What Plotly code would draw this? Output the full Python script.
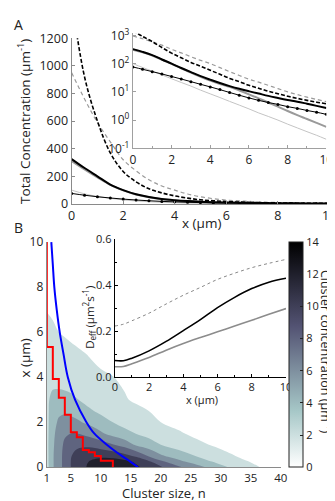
import plotly.graph_objects as go

# ---------------- panel A: total concentration along x
xa = [0, 0.5, 1, 1.5, 2, 2.5, 3, 3.5, 4, 4.5, 5, 5.5, 6, 6.5, 7, 7.5, 8, 8.5, 9, 9.5, 10]
conc_black_dash = [1480, 920, 600, 370, 235, 160, 110, 80, 58, 42, 30, 23, 17, 13.5, 10.5, 8.6, 7.0, 5.9, 5.0, 4.3, 3.8]
conc_grey_dash = [950, 760, 590, 450, 320, 240, 175, 130, 100, 72, 52, 38, 28, 22, 17, 13, 10, 8.0, 6.5, 5.4, 4.5]
conc_black = [325, 260, 200, 140, 100, 70, 50, 36, 27, 20.5, 16, 12.8, 10.5, 8.7, 7.2, 6.1, 5.2, 4.5, 3.8, 3.2, 2.7]
conc_grey = [310, 250, 192, 138, 98, 68, 48, 34, 25, 19, 15, 11.2, 8.2, 5.9, 4.2, 3.0, 2.1, 1.5, 1.1, 0.8, 0.58]
conc_light = [100, 73, 54, 40, 29, 21.5, 16, 11.5, 8.5, 6.3, 4.6, 3.4, 2.5, 1.8, 1.35, 1.0, 0.72, 0.53, 0.39, 0.29, 0.21]
conc_marked = [76, 63, 52, 43, 35, 28.5, 23, 18.5, 15, 12, 9.5, 7.6, 6.1, 5.0, 4.2, 3.6, 3.0, 2.6, 2.2, 1.9, 1.6]

log_ticks = [0.1, 1, 10, 100, 1000]
log_ticktext = ['10<sup>-1</sup>', '10<sup>0</sup>', '10<sup>1</sup>', '10<sup>2</sup>', '10<sup>3</sup>']

# ---------------- panel B: cluster size distribution
n_vals = [1, 2, 3, 4, 5, 6, 8, 10, 12, 14, 16, 18, 20, 23, 26, 29, 32, 35, 38, 40]
x_vals = [0, 0.25, 0.5, 1, 1.5, 2, 2.5, 3, 3.5, 4, 5, 6, 7, 8, 10]
cluster_conc = [
    [3.2, 5.8, 7.3, 8.6, 10.0, 10.9, 12.3, 13.4, 13.8, 13.3, 12.3, 11.2, 10.2, 8.3, 6.8, 5.1, 3.6, 2.5, 1.5, 1.1],
    [3.3, 5.8, 7.3, 8.6, 10.0, 10.8, 12.0, 12.8, 13.0, 12.5, 11.6, 10.3, 8.4, 6.5, 5.0, 3.8, 2.8, 1.9, 1.3, 1.0],
    [3.3, 5.8, 7.3, 8.6, 9.9, 10.6, 11.3, 11.5, 11.3, 10.6, 9.6, 7.8, 6.3, 5.0, 3.9, 2.9, 2.1, 1.4, 1.0, 0.8],
    [3.4, 5.7, 7.1, 8.4, 9.2, 9.6, 9.6, 9.0, 8.1, 7.2, 5.6, 4.9, 4.0, 3.1, 2.4, 1.8, 1.3, 0.9, 0.7, 0.5],
    [3.4, 5.5, 6.9, 7.7, 8.0, 8.0, 7.3, 6.3, 5.3, 4.5, 3.9, 3.3, 2.8, 2.2, 1.6, 1.2, 0.9, 0.6, 0.4, 0.3],
    [3.4, 5.3, 6.3, 6.7, 6.6, 6.3, 5.6, 4.8, 4.0, 3.4, 2.9, 2.4, 2.0, 1.5, 1.1, 0.8, 0.6, 0.4, 0.3, 0.2],
    [3.5, 5.0, 5.6, 5.7, 5.5, 5.2, 4.3, 3.6, 3.1, 2.7, 2.3, 2.0, 1.6, 1.2, 0.9, 0.6, 0.4, 0.3, 0.2, 0.15],
    [3.5, 4.7, 4.9, 4.9, 4.6, 4.1, 3.4, 2.8, 2.4, 2.1, 1.8, 1.5, 1.2, 0.9, 0.7, 0.5, 0.35, 0.25, 0.18, 0.12],
    [3.5, 3.9, 3.95, 3.8, 3.6, 3.3, 2.9, 2.5, 2.2, 1.95, 1.6, 1.3, 1.0, 0.75, 0.55, 0.4, 0.3, 0.2, 0.15, 0.1],
    [3.4, 3.6, 3.5, 3.3, 3.1, 2.9, 2.5, 2.2, 2.03, 1.7, 1.4, 1.1, 0.85, 0.6, 0.45, 0.3, 0.2, 0.15, 0.1, 0.08],
    [3.1, 3.15, 2.95, 2.7, 2.5, 2.3, 1.95, 1.65, 1.4, 1.15, 0.95, 0.75, 0.6, 0.42, 0.3, 0.2, 0.14, 0.1, 0.07, 0.05],
    [2.75, 2.45, 2.0, 1.8, 1.6, 1.45, 1.2, 1.0, 0.85, 0.7, 0.58, 0.47, 0.38, 0.27, 0.19, 0.13, 0.09, 0.06, 0.04, 0.03],
    [1.9, 1.6, 1.4, 1.25, 1.1, 1.0, 0.8, 0.65, 0.55, 0.45, 0.37, 0.3, 0.24, 0.17, 0.12, 0.08, 0.06, 0.04, 0.03, 0.02],
    [1.3, 1.1, 0.95, 0.85, 0.75, 0.67, 0.54, 0.44, 0.36, 0.3, 0.24, 0.2, 0.16, 0.11, 0.08, 0.05, 0.04, 0.03, 0.02, 0.01],
    [0.6, 0.5, 0.44, 0.39, 0.35, 0.31, 0.25, 0.2, 0.17, 0.14, 0.11, 0.09, 0.07, 0.05, 0.035, 0.025, 0.018, 0.012, 0.008, 0.006],
]

# mean cluster size (blue) and most frequent size (red steps)
mean_x = [0, 0.25, 0.5, 1, 1.5, 2, 3, 4, 5, 6, 7, 8, 9, 10]
mean_n = [16.2, 14.9, 13.5, 11.0, 8.9, 7.6, 5.7, 4.5, 3.8, 3.15, 2.65, 2.25, 2.0, 1.75]
mode_n = [1, 2, 3, 4, 5, 6, 7, 8, 9, 10, 12, 12]
mode_x = [10, 5.34, 3.92, 3.08, 2.33, 1.55, 1.33, 0.76, 0.66, 0.5, 0.29, 0]

# inset B: effective diffusion coefficient
xd = [0, 0.5, 1, 2, 3, 4, 5, 6, 7, 8, 9, 10]
deff_black = [0.072, 0.071, 0.082, 0.114, 0.155, 0.202, 0.25, 0.302, 0.347, 0.385, 0.413, 0.43]
deff_grey = [0.045, 0.046, 0.058, 0.085, 0.117, 0.146, 0.172, 0.197, 0.222, 0.247, 0.273, 0.298]
deff_dotted = [0.222, 0.23, 0.245, 0.278, 0.318, 0.356, 0.39, 0.425, 0.452, 0.476, 0.495, 0.512]

W, H = 335, 501
FONT = 'Open Sans'
TXT = '#222'
AX = '#8a8a8a'

# reversed "bone" map for the colour bar; fill map shifted so each band takes its lower level colour
bone_r = [[0, '#ffffff'], [0.25, '#a6c7c7'], [0.625, '#535373'], [1, '#000000']]
bone_fill = [[0, '#ffffff'], [1 / 14, '#ffffff'], [4.5 / 14, '#a6c7c7'], [9.75 / 14, '#535373'], [1, '#101016']]


def px(x):
    return x / W


def py(y):
    return 1 - y / H


fig = go.Figure()

# ---- A main
a_series = [
    (conc_light, dict(color='#c4c4c4', width=1)),
    (conc_grey, dict(color='#9a9a9a', width=2)),
    (conc_grey_dash, dict(color='#9a9a9a', width=1.2, dash='4px,3px')),
    (conc_black, dict(color='#000000', width=2)),
    (conc_black_dash, dict(color='#000000', width=1.6, dash='4px,2px')),
]
for ys, ln in a_series:
    fig.add_trace(go.Scatter(x=xa, y=ys, mode='lines', line=dict(shape='spline', **ln),
                             xaxis='x', yaxis='y', hoverinfo='skip'))
fig.add_trace(go.Scatter(x=xa, y=conc_marked, mode='lines+markers',
                         line=dict(color='#000', width=1, shape='spline'),
                         marker=dict(size=3, color='#000'), xaxis='x', yaxis='y', hoverinfo='skip'))

# ---- A inset (log)
for ys, ln in a_series:
    fig.add_trace(go.Scatter(x=xa, y=ys, mode='lines', line=dict(shape='spline', **ln),
                             xaxis='x2', yaxis='y2', hoverinfo='skip'))
fig.add_trace(go.Scatter(x=xa, y=conc_marked, mode='lines+markers',
                         line=dict(color='#000', width=1, shape='spline'),
                         marker=dict(size=3, color='#000'), xaxis='x2', yaxis='y2', hoverinfo='skip'))

# ---- B contour
fig.add_trace(go.Contour(x=n_vals, y=x_vals, z=cluster_conc, xaxis='x3', yaxis='y3',
                         contours=dict(start=0, end=14, size=2, coloring='fill', showlines=False),
                         zmin=0, zmax=14, colorscale=bone_fill, showscale=False,
                         line=dict(width=0, smoothing=1.0), hoverinfo='skip'))
fig.add_trace(go.Scatter(x=mode_n, y=mode_x, mode='lines', line=dict(color='#ff0000', width=2, shape='vh'),
                         xaxis='x3', yaxis='y3', hoverinfo='skip'))
fig.add_trace(go.Scatter(x=mean_n, y=mean_x, mode='lines', line=dict(color='#0000ff', width=2, shape='spline'),
                         xaxis='x3', yaxis='y3', hoverinfo='skip'))
# colour bar carrier
fig.add_trace(go.Scatter(x=[n_vals[0]], y=[x_vals[0]], mode='markers', xaxis='x3', yaxis='y3',
                         marker=dict(color=[0], cmin=0, cmax=14, colorscale=bone_r, size=1, opacity=0,
                                     showscale=True,
                                     colorbar=dict(x=px(286), xanchor='left', y=py(466), yanchor='bottom',
                                                   len=233 / H, thickness=14, xpad=0, ypad=0,
                                                   outlinewidth=1, outlinecolor=TXT,
                                                   tickvals=[0, 2, 4, 6, 8, 10, 12, 14], ticks='inside',
                                                   ticklen=3, tickcolor=TXT,
                                                   tickfont=dict(size=11, color=TXT, family=FONT))),
                         hoverinfo='skip'))

# ---- B inset
fig.add_trace(go.Scatter(x=xd, y=deff_dotted, mode='lines', line=dict(color='#888', width=1, dash='dot', shape='spline'),
                         xaxis='x4', yaxis='y4', hoverinfo='skip'))
fig.add_trace(go.Scatter(x=xd, y=deff_grey, mode='lines', line=dict(color='#8c8c8c', width=1.6, shape='spline'),
                         xaxis='x4', yaxis='y4', hoverinfo='skip'))
fig.add_trace(go.Scatter(x=xd, y=deff_black, mode='lines', line=dict(color='#000', width=1.6, shape='spline'),
                         xaxis='x4', yaxis='y4', hoverinfo='skip'))


def axis(dom, rng, anchor, color=AX, size=13, **kw):
    d = dict(domain=dom, range=rng, anchor=anchor, showgrid=False, zeroline=False, showline=True,
             linecolor=color, linewidth=1.2, ticks='inside', ticklen=3, tickcolor=color,
             tickfont=dict(size=size, color=TXT, family=FONT))
    d.update(kw)
    return d


fig.update_layout(
    width=W, height=H, margin=dict(l=0, r=0, t=0, b=0),
    paper_bgcolor='white', plot_bgcolor='white', showlegend=False,
    font=dict(family=FONT, color=TXT),
    xaxis=axis([px(61.7), px(328)], [0, 10], 'y', size=12.5, dtick=2),
    yaxis=axis([py(193.5), py(22)], [0, 1200], 'x', size=12.5, dtick=200),
    xaxis2=axis([px(125), px(325)], [0, 10], 'y2', color='#a0a0a0', size=12, dtick=2,
                minor=dict(dtick=1, ticks='inside', ticklen=2, tickcolor='#a0a0a0')),
    yaxis2=axis([py(136), py(17)], [-1, 3.068], 'x2', color='#a0a0a0', size=12, type='log',
                tickvals=log_ticks, ticktext=log_ticktext),
    xaxis3=axis([px(36), px(278)], [1, 40], 'y3', size=11.5, tickvals=[1, 5, 10, 15, 20, 25, 30, 35, 40], ticks=''),
    yaxis3=axis([py(466), py(233)], [0, 10], 'x3', size=12, dtick=2, ticks=''),
    xaxis4=axis([px(106.3), px(283.3)], [0, 10], 'y4', color='#000', size=11, dtick=2,
                minor=dict(dtick=1, ticks='inside', ticklen=2, tickcolor='#000')),
    yaxis4=axis([py(372.7), py(230)], [0, 0.6], 'x4', color='#000', size=11,
                tickvals=[0, 0.2, 0.4, 0.6], ticktext=['0.0', '0.2', '0.4', '0.6'],
                minor=dict(dtick=0.1, ticks='inside', ticklen=2, tickcolor='#000')),
)

notes = [
    ('A', 7, 8, 14, 0),
    ('B', 7, 218, 14, 0),
    ('Total Concentration (µm<sup>-1</sup>)', 13, 108, 13.5, -90),
    ('x (µm)', 196, 213, 13.5, 0),
    ('x (µm)', 13, 353, 13.5, -90),
    ('Cluster size, n', 157, 493, 13, 0),
    ('Cluster concentration (µm<sup>-1</sup>)', 325, 347, 12.5, 90),
    ('D<sub>eff</sub> (µm<sup>2</sup>s<sup>-1</sup>)', 80, 311, 11.5, -90),
    ('x (µm)', 196, 396, 11, 0),
]
for text, x, y, size, ang in notes:
    fig.add_annotation(text=text, x=px(x), y=py(y), xref='paper', yref='paper', showarrow=False,
                       xanchor='center', yanchor='middle', textangle=ang,
                       font=dict(size=size, color=TXT, family=FONT))

fig.write_html('out.html')
